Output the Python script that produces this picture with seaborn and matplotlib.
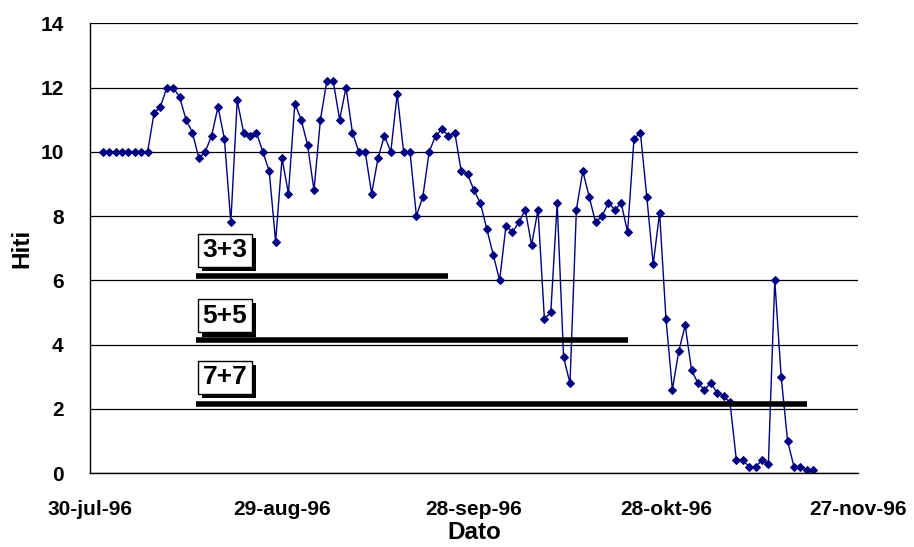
import pandas as pd
import matplotlib.pyplot as plt
import matplotlib.patheffects as pe
import seaborn as sns

# daglige verdier fra 1. aug 1996
start_date = "1996-08-01"
hiti = [10.0, 10.0, 10.0, 10.0, 10.0, 10.0, 10.0, 10.0,
        11.2, 11.4, 12.0, 12.0, 11.7, 11.0, 10.6, 9.8, 10.0, 10.5, 11.4, 10.4,
        7.8, 11.6, 10.6, 10.5, 10.6, 10.0, 9.4, 7.2, 9.8, 8.7,
        11.5, 11.0, 10.2, 8.8, 11.0, 12.2, 12.2, 11.0, 12.0, 10.6, 10.0, 10.0,
        8.7, 9.8, 10.5, 10.0, 11.8, 10.0, 10.0, 8.0, 8.6, 10.0, 10.5, 10.7,
        10.5, 10.6, 9.4, 9.3, 8.8, 8.4, 7.6, 6.8, 6.0, 7.7, 7.5, 7.8, 8.2,
        7.1, 8.2, 4.8, 5.0, 8.4, 3.6, 2.8, 8.2, 9.4, 8.6, 7.8, 8.0,
        8.4, 8.2, 8.4, 7.5, 10.4, 10.6, 8.6, 6.5, 8.1, 4.8, 2.6, 3.8, 4.6,
        3.2, 2.8, 2.6, 2.8, 2.5, 2.4, 2.2, 0.4, 0.4, 0.2, 0.2, 0.4, 0.3,
        6.0, 3.0, 1.0, 0.2, 0.2, 0.1, 0.1]

# vinduer (svarte streker med etikett)
window_labels = ["3+3", "5+5", "7+7"]
window_start = ["1996-08-15 14:00", "1996-08-15 14:00", "1996-08-15 14:00"]
window_end = ["1996-09-24", "1996-10-22", "1996-11-19"]
window_level = [6.14, 4.13, 2.16]
label_y = [6.93, 4.90, 2.98]

tick_dates = ["1996-07-30", "1996-08-29", "1996-09-28", "1996-10-28", "1996-11-27"]
tick_labels = ["30-jul-96", "29-aug-96", "28-sep-96", "28-okt-96", "27-nov-96"]

df = pd.DataFrame({"Dato": pd.date_range(start_date, periods=len(hiti), freq="D"),
                   "Hiti": hiti})

sns.set_style("white")
plt.rcParams["font.family"] = ["Liberation Sans", "DejaVu Sans"]
plt.rcParams["font.weight"] = "bold"

fig = plt.figure(figsize=(9.14, 5.47), dpi=100)
ax = fig.add_axes([0.0985, 0.135, 0.8402, 0.8225])

sns.lineplot(data=df, x="Dato", y="Hiti", ax=ax, color="#000080", linewidth=1,
             marker="D", markersize=4.5, markeredgecolor="#000080")

# svarte streker og etiketter
for lab, s, e, lev, ly in zip(window_labels, window_start, window_end, window_level, label_y):
    ax.hlines(lev, pd.Timestamp(s), pd.Timestamp(e), color="black", linewidth=4, zorder=3)
    t = ax.text(pd.Timestamp("1996-08-20 02:00"), ly, lab, ha="center", va="center",
                fontsize=19, fontweight="bold", color="black", zorder=4,
                bbox=dict(boxstyle="square,pad=0.18", fc="white", ec="black", lw=1))
    t.get_bbox_patch().set_path_effects([
        pe.withSimplePatchShadow(offset=(3, -3), shadow_rgbFace="black", alpha=1.0)])

ax.set_xlim(pd.Timestamp(tick_dates[0]), pd.Timestamp(tick_dates[-1]))
ax.set_ylim(0, 14)
ax.set_yticks(range(0, 15, 2))
ax.set_xticks([pd.Timestamp(d) for d in tick_dates])
ax.set_xticklabels(tick_labels)

ax.yaxis.grid(True, color="black", linewidth=0.9)
ax.set_axisbelow(True)
for side in ["top", "right"]:
    ax.spines[side].set_visible(False)
for side in ["left", "bottom"]:
    ax.spines[side].set_color("black")
    ax.spines[side].set_linewidth(1)

ax.tick_params(axis="x", direction="inout", length=11, width=1, colors="black",
               labelsize=15, pad=14)
ax.tick_params(axis="y", direction="out", length=7, width=1, colors="black",
               labelsize=15, pad=12)
for lbl in ax.get_xticklabels() + ax.get_yticklabels():
    lbl.set_fontweight("bold")

ax.set_xlabel("Dato", fontsize=17.5, fontweight="bold", color="black", labelpad=1)
ax.set_ylabel("Hiti", fontsize=17.5, fontweight="bold", color="black", labelpad=5)

fig.savefig("out.png", dpi=100)
